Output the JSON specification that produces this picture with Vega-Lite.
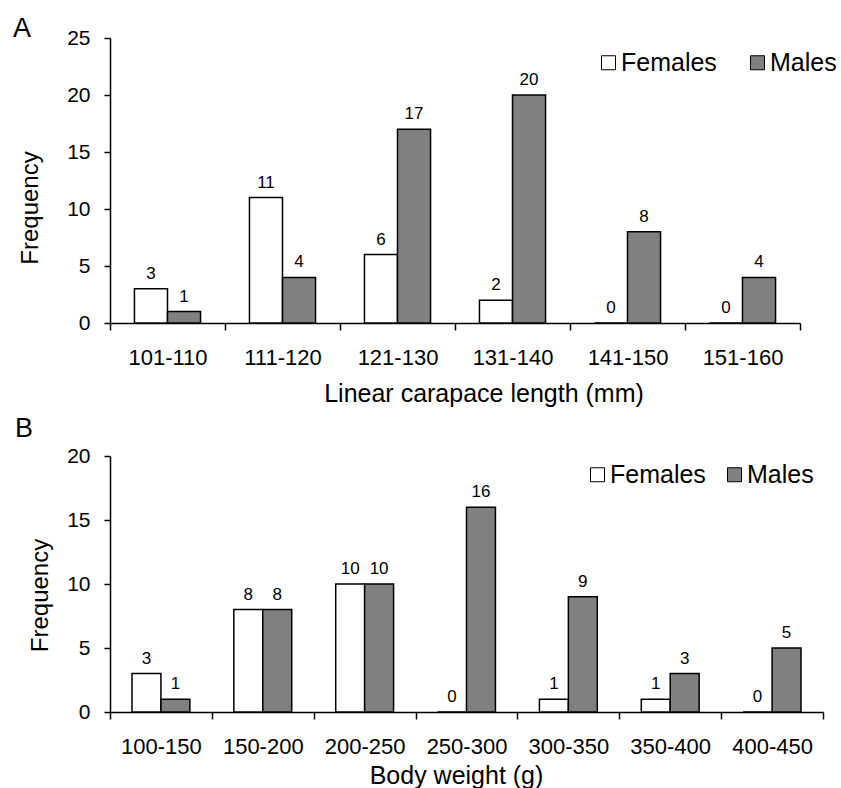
{
  "$schema": "https://vega.github.io/schema/vega-lite/v6.json",
  "autosize": {"type": "none"},
  "padding": {"left": 110, "top": 38, "right": 731, "bottom": 750},
  "background": "white",
  "config": {
    "font": "Liberation Sans",
    "view": {"stroke": null},
    "axis": {
      "grid": false,
      "domainColor": "black",
      "tickColor": "black",
      "labelColor": "black",
      "titleColor": "black",
      "labelFont": "Liberation Sans",
      "titleFont": "Liberation Sans",
      "titleFontWeight": "normal",
      "domainWidth": 1.5,
      "tickWidth": 1.5
    },
    "legend": {
      "labelFont": "Liberation Sans",
      "labelColor": "black"
    },
    "title": {"font": "Liberation Sans", "fontWeight": "normal", "color": "black"}
  },
  "datasets": {
    "lengths": [
      {"range": "101-110", "sex": "Females", "count": 3},
      {"range": "101-110", "sex": "Males", "count": 1},
      {"range": "111-120", "sex": "Females", "count": 11},
      {"range": "111-120", "sex": "Males", "count": 4},
      {"range": "121-130", "sex": "Females", "count": 6},
      {"range": "121-130", "sex": "Males", "count": 17},
      {"range": "131-140", "sex": "Females", "count": 2},
      {"range": "131-140", "sex": "Males", "count": 20},
      {"range": "141-150", "sex": "Females", "count": 0},
      {"range": "141-150", "sex": "Males", "count": 8},
      {"range": "151-160", "sex": "Females", "count": 0},
      {"range": "151-160", "sex": "Males", "count": 4}
    ],
    "weights": [
      {"range": "100-150", "sex": "Females", "count": 3},
      {"range": "100-150", "sex": "Males", "count": 1},
      {"range": "150-200", "sex": "Females", "count": 8},
      {"range": "150-200", "sex": "Males", "count": 8},
      {"range": "200-250", "sex": "Females", "count": 10},
      {"range": "200-250", "sex": "Males", "count": 10},
      {"range": "250-300", "sex": "Females", "count": 0},
      {"range": "250-300", "sex": "Males", "count": 16},
      {"range": "300-350", "sex": "Females", "count": 1},
      {"range": "300-350", "sex": "Males", "count": 9},
      {"range": "350-400", "sex": "Females", "count": 1},
      {"range": "350-400", "sex": "Males", "count": 3},
      {"range": "400-450", "sex": "Females", "count": 0},
      {"range": "400-450", "sex": "Males", "count": 5}
    ]
  },
  "spacing": 133,
  "bounds": "flush",
  "resolve": {
    "scale": {"color": "independent", "xOffset": "independent"},
    "legend": {"color": "independent"}
  },
  "vconcat": [
    {
      "width": 690,
      "height": 285,
      "title": {"text": "A", "anchor": "start", "frame": "group", "fontSize": 27, "dx": -97, "dy": 37, "baseline": "alphabetic", "offset": 0},
      "data": {"name": "lengths"},
      "encoding": {
        "x": {
          "field": "range", "type": "nominal", "sort": null,
          "scale": {"paddingInner": 0, "paddingOuter": 0},
          "axis": {
            "tickBand": "extent", "tickSize": 7, "labelPadding": 17, "labelFontSize": 22, "labelAngle": 0,
            "title": "Linear carapace length (mm)", "titleFontSize": 25,
            "titleX": 373.5, "titleY": 58, "titleBaseline": "top", "titleAlign": "center"
          }
        },
        "xOffset": {
          "field": "sex", "type": "nominal",
          "scale": {"domain": ["Females", "Males"], "paddingInner": 0, "paddingOuter": 0.74}
        },
        "y": {
          "field": "count", "type": "quantitative",
          "scale": {"domain": [0, 25], "nice": false},
          "axis": {
            "values": [0, 5, 10, 15, 20, 25], "tickSize": 6, "labelPadding": 14, "labelFontSize": 21,
            "title": "Frequency", "titleFontSize": 24,
            "titleX": -73, "titleY": 169.5, "titleBaseline": "alphabetic", "titleAlign": "center"
          }
        }
      },
      "layer": [
        {
          "mark": {"type": "bar", "stroke": "black", "strokeWidth": 1.5},
          "encoding": {
            "color": {
              "field": "sex", "type": "nominal",
              "scale": {"domain": ["Females", "Males"], "range": ["white", "#808080"]},
              "legend": {
                "orient": "none", "legendX": 486, "legendY": 12, "direction": "horizontal", "title": null,
                "symbolType": "square", "symbolSize": 196, "symbolStrokeColor": "black", "symbolStrokeWidth": 1,
                "labelFontSize": 25, "labelOffset": 0, "columnPadding": 28, "padding": 0
              }
            }
          }
        },
        {
          "mark": {"type": "text", "dy": -10, "baseline": "alphabetic", "fontSize": 17, "color": "black"},
          "encoding": {"text": {"field": "count", "type": "quantitative"}}
        }
      ]
    },
    {
      "width": 713,
      "height": 256,
      "title": {"text": "B", "anchor": "start", "frame": "group", "fontSize": 27, "dx": -95, "dy": 38, "baseline": "alphabetic", "offset": 19},
      "data": {"name": "weights"},
      "encoding": {
        "x": {
          "field": "range", "type": "nominal", "sort": null,
          "scale": {"paddingInner": 0, "paddingOuter": 0},
          "axis": {
            "tickBand": "extent", "tickSize": 7, "labelPadding": 17, "labelFontSize": 22, "labelAngle": 0,
            "title": "Body weight (g)", "titleFontSize": 25,
            "titleX": 346, "titleY": 51, "titleBaseline": "top", "titleAlign": "center"
          }
        },
        "xOffset": {
          "field": "sex", "type": "nominal",
          "scale": {"domain": ["Females", "Males"], "paddingInner": 0, "paddingOuter": 0.76}
        },
        "y": {
          "field": "count", "type": "quantitative",
          "scale": {"domain": [0, 20], "nice": false},
          "axis": {
            "values": [0, 5, 10, 15, 20], "tickSize": 6, "labelPadding": 14, "labelFontSize": 21,
            "title": "Frequency", "titleFontSize": 24,
            "titleX": -63, "titleY": 139, "titleBaseline": "alphabetic", "titleAlign": "center"
          }
        }
      },
      "layer": [
        {
          "mark": {"type": "bar", "stroke": "black", "strokeWidth": 1.5},
          "encoding": {
            "color": {
              "field": "sex", "type": "nominal",
              "scale": {"domain": ["Females", "Males"], "range": ["white", "#808080"]},
              "legend": {
                "orient": "none", "legendX": 475, "legendY": 6, "direction": "horizontal", "title": null,
                "symbolType": "square", "symbolSize": 196, "symbolStrokeColor": "black", "symbolStrokeWidth": 1,
                "labelFontSize": 25, "labelOffset": 0, "columnPadding": 16, "padding": 0
              }
            }
          }
        },
        {
          "mark": {"type": "text", "dy": -10, "baseline": "alphabetic", "fontSize": 17, "color": "black"},
          "encoding": {"text": {"field": "count", "type": "quantitative"}}
        }
      ]
    }
  ]
}
